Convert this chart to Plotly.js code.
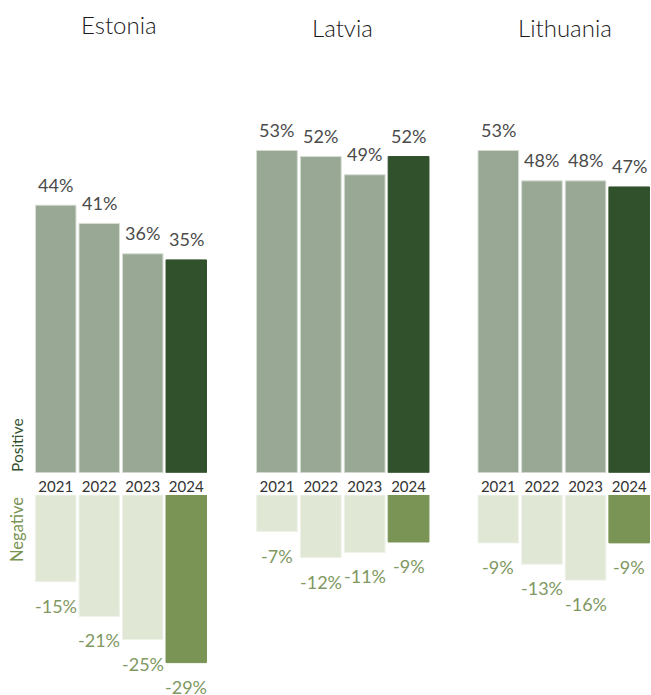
<!DOCTYPE html>
<html>
<head>
<meta charset="utf-8">
<script src="https://cdn.plot.ly/plotly-3.0.1.min.js"></script>
<style>html,body{margin:0;padding:0;background:#fff;}#chart{width:651px;height:695px;}</style>
</head>
<body>
<div id="chart"></div>
<script>
const countries = ['Estonia', 'Latvia', 'Lithuania'];
const years = ['2021', '2022', '2023', '2024'];
const estoniaPositive = [44, 41, 36, 35];
const estoniaNegative = [-15, -21, -25, -29];
const latviaPositive = [53, 52, 49, 52];
const latviaNegative = [-7, -12, -11, -9];
const lithuaniaPositive = [53, 48, 48, 47];
const lithuaniaNegative = [-9, -13, -16, -9];
const sideLabels = ['Positive', 'Negative'];

const positives = [estoniaPositive, latviaPositive, lithuaniaPositive];
const negatives = [estoniaNegative, latviaNegative, lithuaniaNegative];

const W = 651, H = 695;
const FONT = 'Lato, "Noto Sans", sans-serif';
const posColors = ['#98a895', '#98a895', '#98a895', '#31502c'];
const posLines = ['#d6ddd3', '#d6ddd3', '#d6ddd3', '#31502c'];
const negColors = ['#e0e8d5', '#e0e8d5', '#e0e8d5', '#7a9455'];
const negLines = ['#eef2e9', '#eef2e9', '#eef2e9', '#7a9455'];

// pixel geometry
const panelX = [[34, 208], [255, 430.5], [476.5, 651]];
const posBase = 472.7, posTop = 60, posScale = 6.08;
const negBase = 495, negBottom = 695;
const negScales = [5.78, 5.22, 5.32];
const titleY = [24.5, 27, 27];
const titleX = [118.7, 342.4, 565];

const data = [];
const layout = {
  width: W, height: H,
  margin: {l: 0, r: 0, t: 0, b: 0},
  paper_bgcolor: '#ffffff', plot_bgcolor: 'rgba(0,0,0,0)',
  showlegend: false,
  bargap: 0.07,
  font: {family: FONT},
  annotations: []
};

countries.forEach((c, i) => {
  const px = 'x' + (i + 1), py = 'y' + (i + 1);
  const nx = 'x' + (i + 4), ny = 'y' + (i + 4);
  data.push({
    type: 'bar', x: years, y: positives[i], xaxis: px, yaxis: py,
    marker: {color: posColors, line: {color: posLines, width: 1}},
    hoverinfo: 'skip'
  });
  data.push({
    type: 'bar', x: years, y: negatives[i], xaxis: nx, yaxis: ny,
    marker: {color: negColors, line: {color: negLines, width: 1}},
    hoverinfo: 'skip'
  });
  const dom = [panelX[i][0] / W, panelX[i][1] / W];
  layout['xaxis' + (i + 1)] = {
    domain: dom, anchor: py, type: 'category', range: [-0.5, years.length - 0.5],
    showgrid: false, zeroline: false, showline: false, ticks: '',
    ticklabelstandoff: 3,
    tickfont: {size: 15, color: '#333333', family: FONT},
    fixedrange: true
  };
  layout['yaxis' + (i + 1)] = {
    domain: [(H - posBase) / H, (H - posTop) / H], anchor: px,
    range: [0, (posBase - posTop) / posScale],
    visible: false, showgrid: false, zeroline: false, fixedrange: true
  };
  layout['xaxis' + (i + 4)] = {
    domain: dom, anchor: ny, type: 'category', range: [-0.5, years.length - 0.5],
    showgrid: false, zeroline: false, showline: false, ticks: '',
    showticklabels: false, fixedrange: true
  };
  layout['yaxis' + (i + 4)] = {
    domain: [0, (H - negBase) / H], anchor: nx,
    range: [-(negBottom - negBase) / negScales[i], 0],
    visible: false, showgrid: false, zeroline: false, fixedrange: true
  };
  // title
  layout.annotations.push({
    xref: 'paper', yref: 'paper', x: titleX[i] / W, y: 1 - titleY[i] / H,
    xanchor: 'center', yanchor: 'middle', showarrow: false,
    text: c, font: {size: 24, color: '#1a1a1a', family: FONT, weight: 300}
  });
  // value labels (x given as category index)
  years.forEach((yr, j) => {
    layout.annotations.push({
      xref: px, yref: py, x: j, y: positives[i][j],
      xanchor: 'center', yanchor: 'middle', yshift: 20.5, showarrow: false,
      text: positives[i][j] + '%', font: {size: 18, color: '#4a4a4a', family: FONT}
    });
    layout.annotations.push({
      xref: nx, yref: ny, x: j, y: negatives[i][j],
      xanchor: 'center', yanchor: 'middle', yshift: -24, showarrow: false,
      text: negatives[i][j] + '%', font: {size: 18, color: '#809862', family: FONT}
    });
  });
});

// side labels
layout.annotations.push({
  xref: 'paper', yref: 'paper', x: 16.5 / W, y: 1 - 445.5 / H,
  xanchor: 'center', yanchor: 'middle', showarrow: false, textangle: -90,
  text: sideLabels[0], font: {size: 15.5, color: '#31502c', family: FONT}
});
layout.annotations.push({
  xref: 'paper', yref: 'paper', x: 16.5 / W, y: 1 - 529.5 / H,
  xanchor: 'center', yanchor: 'middle', showarrow: false, textangle: -90,
  text: sideLabels[1], font: {size: 16.5, color: '#7a9455', family: FONT}
});

Plotly.newPlot('chart', data, layout, {staticPlot: true, displayModeBar: false});
</script>
</body>
</html>
